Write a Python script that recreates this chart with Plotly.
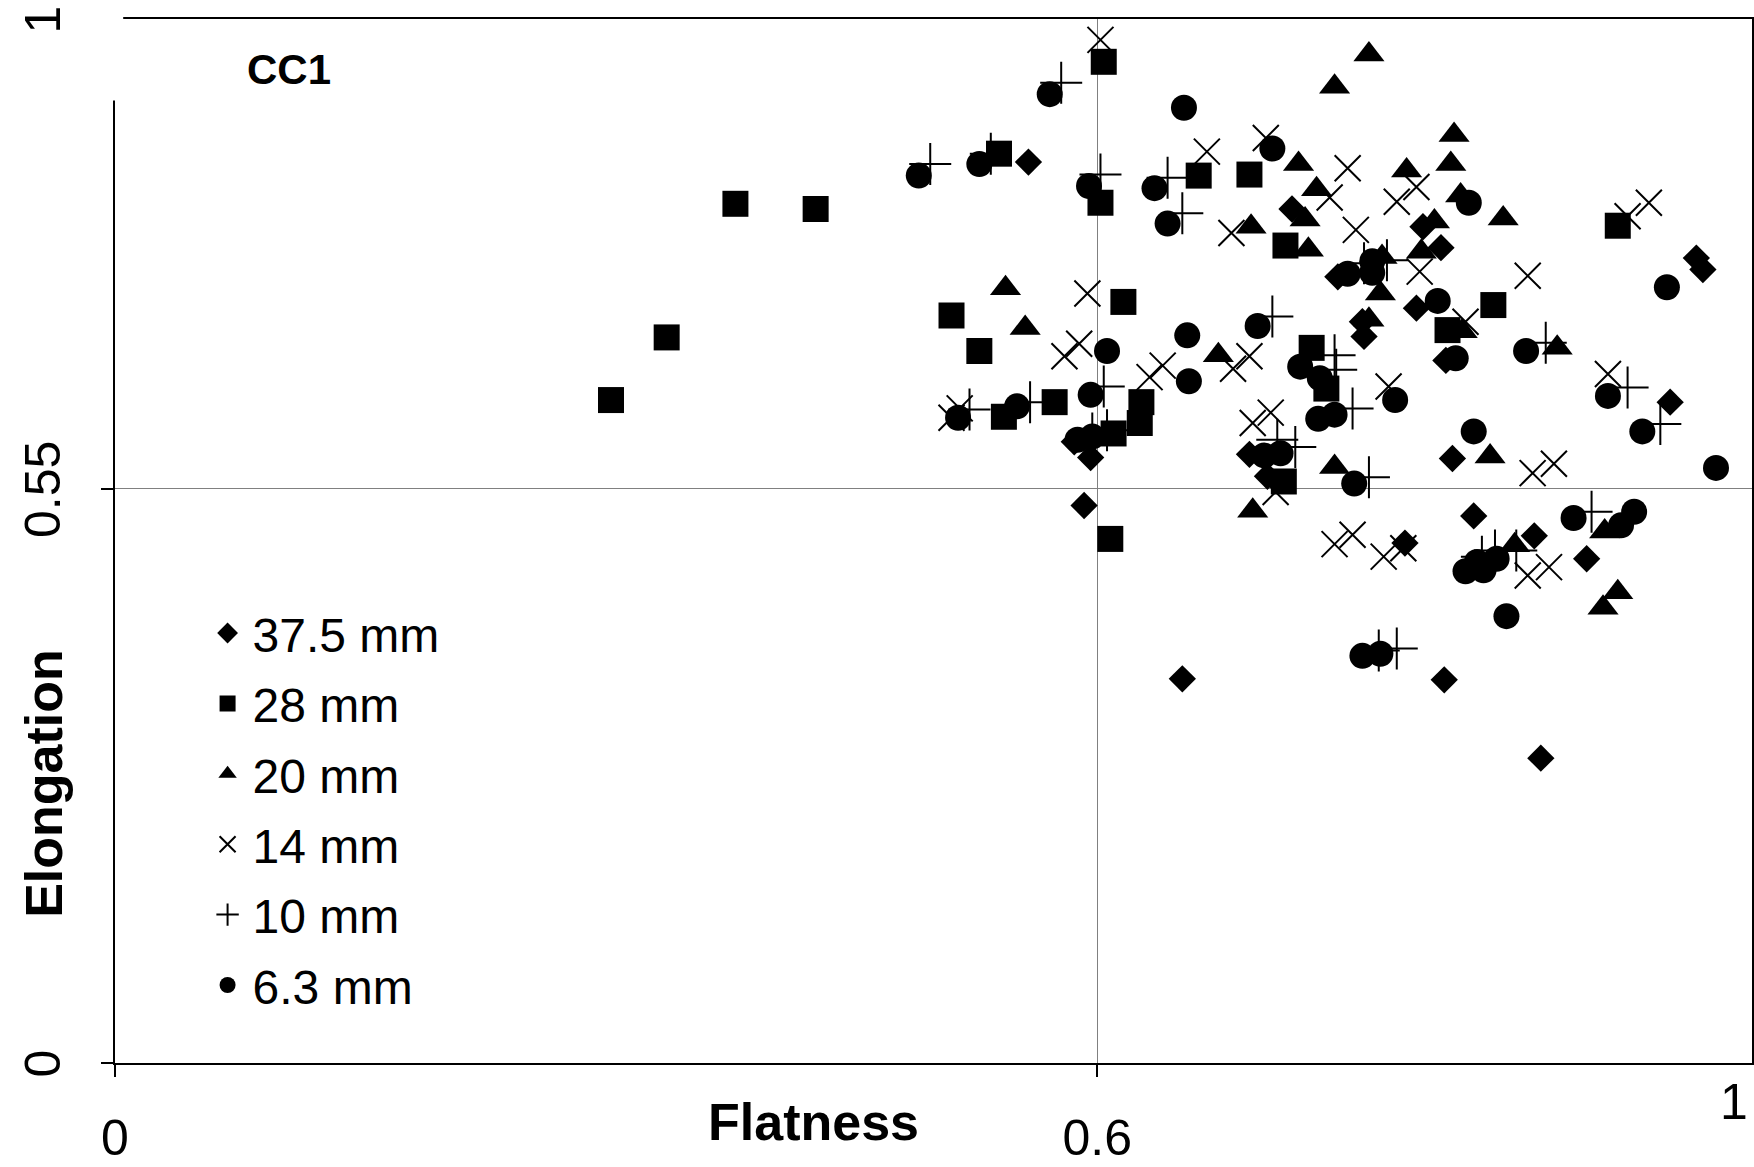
import plotly.graph_objects as go

# Flatness (x) and elongation (y) of particles, per sieve size, sample CC1
flat_375 = [0.558, 0.719, 0.799, 0.810, 0.747, 0.795, 0.762, 0.763, 0.813, 0.586,
            0.596, 0.592, 0.652, 0.693, 0.704, 0.817, 0.830, 0.788, 0.812, 0.966,
            0.970, 0.950, 0.867, 0.899, 0.871]
elong_375 = [0.863, 0.818, 0.801, 0.781, 0.753, 0.723, 0.710, 0.696, 0.673, 0.595,
             0.580, 0.534, 0.368, 0.583, 0.562, 0.579, 0.524, 0.498, 0.367, 0.771,
             0.760, 0.633, 0.505, 0.483, 0.292]

flat_28 = [0.604, 0.540, 0.602, 0.662, 0.693, 0.379, 0.428, 0.337, 0.303, 0.616,
           0.511, 0.528, 0.574, 0.543, 0.627, 0.626, 0.610, 0.608, 0.715, 0.731,
           0.740, 0.714, 0.814, 0.918, 0.842]
elong_28 = [0.959, 0.871, 0.824, 0.850, 0.851, 0.823, 0.818, 0.695, 0.635, 0.729,
            0.716, 0.682, 0.633, 0.619, 0.633, 0.613, 0.603, 0.502, 0.783, 0.685,
            0.646, 0.557, 0.702, 0.802, 0.726]

flat_20 = [0.766, 0.745, 0.723, 0.789, 0.818, 0.816, 0.734, 0.822, 0.694, 0.727,
           0.729, 0.806, 0.798, 0.774, 0.773, 0.766, 0.823, 0.674, 0.544, 0.556,
           0.848, 0.881, 0.745, 0.695, 0.840, 0.910, 0.855, 0.918, 0.909]
elong_20 = [0.966, 0.935, 0.861, 0.855, 0.889, 0.861, 0.837, 0.831, 0.801, 0.808,
            0.779, 0.806, 0.777, 0.772, 0.737, 0.712, 0.701, 0.678, 0.742, 0.704,
            0.809, 0.685, 0.571, 0.529, 0.581, 0.509, 0.496, 0.451, 0.436]

flat_14 = [0.602, 0.667, 0.703, 0.753, 0.742, 0.795, 0.783, 0.682, 0.758, 0.797,
           0.825, 0.778, 0.693, 0.683, 0.706, 0.695, 0.709, 0.745, 0.756, 0.775,
           0.787, 0.937, 0.924, 0.863, 0.912, 0.879, 0.866, 0.863, 0.876, 0.594,
           0.589, 0.580, 0.640, 0.632, 0.511, 0.516]
elong_14 = [0.980, 0.873, 0.886, 0.857, 0.829, 0.839, 0.825, 0.795, 0.798, 0.758,
            0.710, 0.648, 0.677, 0.665, 0.623, 0.613, 0.547, 0.497, 0.506, 0.485,
            0.493, 0.824, 0.811, 0.754, 0.660, 0.574, 0.565, 0.467, 0.475, 0.737,
            0.689, 0.677, 0.668, 0.657, 0.618, 0.627]

flat_10 = [0.578, 0.498, 0.535, 0.602, 0.643, 0.652, 0.604, 0.559, 0.522, 0.606,
           0.707, 0.745, 0.746, 0.763, 0.777, 0.756, 0.721, 0.766, 0.772, 0.783,
           0.874, 0.924, 0.944, 0.902, 0.856, 0.843, 0.835, 0.710, 0.597]
elong_10 = [0.939, 0.861, 0.871, 0.851, 0.848, 0.814, 0.648, 0.633, 0.626, 0.606,
            0.715, 0.678, 0.664, 0.766, 0.769, 0.627, 0.590, 0.561, 0.395, 0.397,
            0.690, 0.647, 0.612, 0.528, 0.491, 0.491, 0.485, 0.597, 0.603]

flat_63 = [0.571, 0.653, 0.491, 0.528, 0.595, 0.635, 0.643, 0.707, 0.827, 0.606,
           0.655, 0.656, 0.596, 0.551, 0.515, 0.588, 0.597, 0.753, 0.768, 0.768,
           0.808, 0.819, 0.698, 0.724, 0.736, 0.782, 0.735, 0.745, 0.702, 0.712,
           0.757, 0.830, 0.825, 0.832, 0.762, 0.773, 0.948, 0.862, 0.912, 0.933,
           0.978, 0.891, 0.928, 0.920, 0.836, 0.844, 0.850]
elong_63 = [0.928, 0.915, 0.850, 0.861, 0.840, 0.838, 0.804, 0.876, 0.824, 0.682,
            0.697, 0.653, 0.640, 0.629, 0.618, 0.597, 0.600, 0.756, 0.768, 0.757,
            0.730, 0.675, 0.706, 0.667, 0.656, 0.635, 0.617, 0.621, 0.582, 0.584,
            0.555, 0.605, 0.471, 0.480, 0.390, 0.392, 0.743, 0.682, 0.639, 0.605,
            0.570, 0.522, 0.528, 0.515, 0.472, 0.483, 0.428]

series_names = ["37.5 mm", "28 mm", "20 mm", "14 mm", "10 mm", "6.3 mm"]

FONT = "Liberation Sans, Arial, sans-serif"
BLACK = "#000000"

styles = [
    dict(symbol="diamond", size=21, color=BLACK),
    dict(symbol="square", size=26, color=BLACK),
    dict(symbol="triangle-up", size=27, color=BLACK),
    dict(symbol="x-thin", size=26, color=BLACK, line=dict(color=BLACK, width=2)),
    dict(symbol="cross-thin", size=30, color=BLACK, line=dict(color=BLACK, width=2)),
    dict(symbol="circle", size=26, color=BLACK),
]
xs = [flat_375, flat_28, flat_20, flat_14, flat_10, flat_63]
ys = [elong_375, elong_28, elong_20, elong_14, elong_10, elong_63]

fig = go.Figure()
for name, x, y, st in zip(series_names, xs, ys, styles):
    fig.add_trace(go.Scatter(
        x=x, y=y, mode="markers", name=name, legendgroup=name,
        marker=st, cliponaxis=False,
    ))

fig.update_layout(
    width=1754, height=1167,
    margin=dict(l=115, r=2, t=19, b=104, autoexpand=False),
    paper_bgcolor="white", plot_bgcolor="white",
    font=dict(family=FONT, color=BLACK, size=50),
    showlegend=True,
    legend=dict(
        x=0.0535, y=0.448, xanchor="left", yanchor="top",
        font=dict(family=FONT, size=48, color=BLACK),
        bgcolor="rgba(0,0,0,0)", borderwidth=0,
        tracegroupgap=5, itemsizing="trace", itemwidth=40,
    ),
)

fig.update_xaxes(
    range=[0, 1], tickvals=[0, 0.6], ticktext=["0", "0.6"],
    showgrid=True, gridcolor="#808080", gridwidth=1, zeroline=False,
    showline=True, linecolor=BLACK, linewidth=2, mirror=True,
    ticks="outside", ticklen=12, tickwidth=1.5, tickcolor=BLACK,
    tickfont=dict(family=FONT, size=50, color=BLACK),
    ticklabelstandoff=18, automargin=False,
)
fig.update_yaxes(
    range=[0, 1], tickvals=[0, 0.55, 1], ticktext=["0", "0.55", "1"],
    showgrid=True, gridcolor="#808080", gridwidth=1, zeroline=False,
    showline=True, linecolor=BLACK, linewidth=2, mirror=True,
    ticks="outside", ticklen=12, tickwidth=1.5, tickcolor=BLACK,
    tickangle=-90, ticklabeloverflow="allow",
    tickfont=dict(family=FONT, size=50, color=BLACK),
    ticklabelstandoff=21, ticklabelshift=8, automargin=False,
)

# white patch behind the title corner (breaks the frame at the top-left)
fig.add_shape(type="rect", xref="paper", yref="paper",
              x0=-0.016, x1=0.005, y0=0.922, y1=1.03,
              fillcolor="white", line=dict(width=0), layer="above")

fig.add_annotation(text="<b>CC1</b>", xref="paper", yref="paper",
                   x=0.106, y=0.952, xanchor="center", yanchor="middle",
                   showarrow=False,
                   font=dict(family=FONT, size=42, color=BLACK))
fig.add_annotation(text="<b>Flatness</b>", xref="paper", yref="paper",
                   x=0.427, y=-0.0565, xanchor="center", yanchor="middle",
                   showarrow=False,
                   font=dict(family=FONT, size=52, color=BLACK))
fig.add_annotation(text="<b>Elongation</b>", xref="paper", yref="paper",
                   x=-0.043, y=0.268, xanchor="center", yanchor="middle",
                   showarrow=False, textangle=-90,
                   font=dict(family=FONT, size=52, color=BLACK))
fig.add_annotation(text="1", xref="paper", yref="paper",
                   x=0.989, y=-0.0374, xanchor="center", yanchor="middle",
                   showarrow=False,
                   font=dict(family=FONT, size=50, color=BLACK))

fig.write_html("out.html")
